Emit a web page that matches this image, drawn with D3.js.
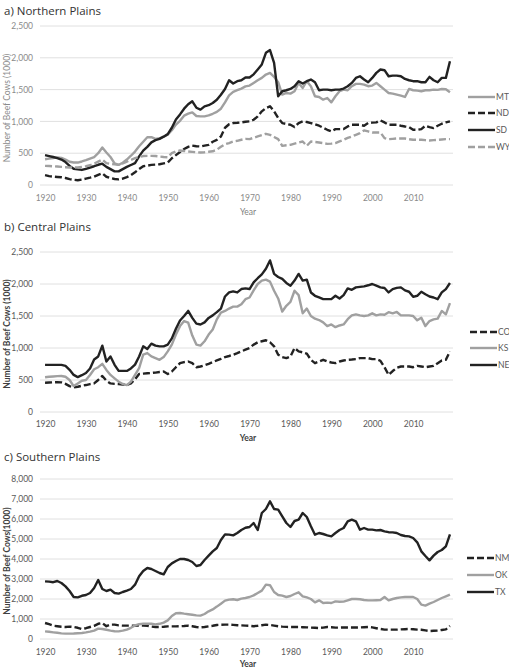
<!DOCTYPE html>
<html><head><meta charset="utf-8">
<script src="https://cdn.jsdelivr.net/npm/d3@7"></script>
<style>
body{margin:0;background:#fff;}
svg{display:block;font-family:Lato, "Open Sans", sans-serif;}
</style></head>
<body><svg id="chart" width="509" height="668"></svg>
<script>
const years = d3.range(1920, 2020);
const xTickLabels = [1920,1930,1940,1950,1960,1970,1980,1990,2000,2010];
const yTicksAB = [0,500,1000,1500,2000,2500];
const yTicksC = [0,1000,2000,3000,4000,5000,6000,7000,8000];

// a) Northern Plains
const MT = [405,415,425,435,425,400,365,353,353,370, 390,415,440,500,590,511,440,340,316,350,
 400,460,526,610,680,750,753,725,735,760, 790,860,950,1010,1090,1121,1142,1085,1079,1079,
 1095,1120,1150,1200,1300,1410,1465,1490,1515,1550, 1563,1605,1647,1684,1737,1763,1700,1616,1421,1447,
 1437,1474,1605,1526,1632,1553,1395,1384,1342,1368, 1300,1395,1474,1500,1490,1553,1590,1590,1579,1553,
 1563,1605,1553,1500,1447,1437,1421,1405,1384,1510, 1490,1484,1474,1490,1490,1500,1495,1510,1505,1458];
const ND = [155,140,132,126,121,110,92,82,75,85, 100,115,132,160,184,130,110,95,89,100,
 125,155,200,250,295,305,316,320,326,340, 353,420,470,520,565,600,620,610,605,620,
 632,680,710,763,900,955,974,978,984,995, 1000,1026,1079,1158,1210,1237,1158,1053,974,960,
 947,911,974,1000,990,974,955,932,900,868, 842,879,879,879,921,947,947,947,932,974,
 980,984,1016,984,947,947,947,932,920,911, 868,868,879,932,911,895,932,963,984,1000];
const SD = [470,455,440,422,400,360,300,255,245,237, 255,275,295,318,335,285,250,215,215,250,
 285,315,345,450,540,600,670,705,725,760, 800,900,1030,1110,1200,1270,1316,1215,1185,1237,
 1255,1290,1340,1420,1510,1647,1595,1632,1647,1690, 1690,1740,1816,1895,2079,2121,1921,1395,1474,1490,
 1510,1553,1632,1595,1632,1658,1616,1490,1500,1500, 1490,1500,1500,1516,1553,1605,1684,1710,1658,1616,
 1684,1763,1816,1805,1710,1720,1720,1710,1668,1647, 1632,1632,1616,1616,1700,1647,1616,1684,1684,1947];
const WY = [300,298,295,290,285,280,275,274,276,285, 295,310,335,368,400,345,333,325,316,340,
 368,395,421,440,455,458,458,455,448,440, 437,500,530,542,535,526,520,515,511,515,
 522,530,555,600,640,660,684,695,711,725, 721,742,763,784,805,789,755,721,616,625,
 632,650,668,684,616,684,676,668,658,647, 650,658,685,711,740,763,789,816,858,842,
 826,826,826,737,721,726,731,731,731,720, 711,711,711,705,700,705,711,716,721,721];

// b) Central Plains
const CO = [458,460,463,465,463,440,405,384,395,410, 421,435,447,500,563,489,447,440,437,430,
 421,447,510,595,600,605,610,616,625,632, 595,632,700,763,780,789,763,700,711,730,
 753,780,805,830,858,875,895,920,947,974, 1000,1053,1089,1105,1121,1090,1026,895,858,842,
 868,1000,947,932,911,816,763,789,816,790, 774,763,789,805,816,820,826,842,842,842,
 826,826,800,700,579,640,690,711,711,711, 700,721,711,700,710,721,763,805,816,947];
const KS = [542,550,555,560,563,550,500,405,447,489, 500,579,668,700,753,658,579,526,474,437,
 421,474,579,684,895,921,868,842,816,858, 947,1053,1210,1342,1421,1395,1195,1053,1037,1105,
 1210,1289,1447,1553,1579,1616,1647,1647,1684,1763, 1789,1900,2000,2053,2068,2037,1895,1774,1570,1660,
 1720,1895,1826,1542,1616,1500,1458,1437,1400,1342, 1368,1326,1352,1368,1450,1510,1526,1510,1500,1510,
 1542,1510,1526,1520,1560,1542,1563,1510,1510,1510, 1500,1432,1474,1342,1421,1447,1460,1579,1526,1700];
const NE = [737,737,737,737,737,720,660,580,545,575, 610,680,820,868,1037,789,868,737,642,642,
 642,680,740,868,1026,984,1068,1037,1026,1026, 1053,1150,1300,1430,1500,1580,1470,1380,1368,1400,
 1470,1510,1560,1616,1805,1868,1884,1868,1921,1932, 1921,2026,2090,2150,2237,2368,2158,2110,2079,2016,
 1974,2053,2158,2053,2068,1868,1816,1790,1763,1763, 1763,1816,1774,1826,1932,1910,1947,1955,1963,1980,
 2000,1974,1947,1937,1868,1921,1940,1947,1900,1879, 1800,1816,1879,1840,1805,1789,1763,1868,1921,2016];

// c) Southern Plains
const NM = [800,740,667,640,610,600,620,600,560,500, 540,600,660,760,800,640,717,717,680,667,
 667,670,667,667,667,660,620,600,600,610, 633,633,633,640,650,667,640,600,583,600,
 633,660,700,710,717,717,705,690,680,667, 660,640,660,690,717,700,670,640,620,605,
 600,600,600,590,583,570,560,550,570,600, 590,567,570,575,575,575,575,580,590,600,
 580,540,500,470,467,467,467,480,490,500, 490,470,460,430,400,410,420,450,480,650];
const OK = [383,360,333,310,280,267,267,275,290,300, 330,370,420,520,500,460,420,390,383,420,
 467,560,680,740,767,760,760,730,760,820, 930,1150,1290,1300,1267,1240,1210,1180,1167,1250,
 1383,1480,1620,1767,1920,1970,1990,1950,2017,2050, 2100,2180,2300,2420,2717,2690,2350,2200,2167,2100,
 2150,2250,2333,2133,2080,2000,1833,1933,1800,1820, 1800,1883,1860,1870,1933,2000,2000,1990,1950,1933,
 1933,1940,1950,2100,1933,2000,2050,2080,2100,2100, 2100,2000,1717,1667,1767,1850,1950,2050,2133,2217];
const TX = [2883,2870,2840,2900,2800,2633,2400,2100,2080,2160, 2200,2300,2550,2950,2500,2400,2467,2300,2267,2350,
 2420,2500,2717,3133,3400,3550,3500,3400,3300,3230, 3600,3780,3900,4000,4000,3950,3850,3650,3700,3950,
 4167,4383,4550,4950,5230,5220,5180,5300,5450,5560, 5600,5800,5450,6300,6500,6883,6500,6467,6133,5800,
 5600,5900,5967,6300,6100,5633,5217,5300,5250,5180, 5133,5300,5450,5550,5883,5967,5883,5467,5550,5467,
 5467,5433,5450,5383,5340,5333,5300,5200,5150,5133, 5050,4833,4383,4150,3933,4167,4350,4450,4633,5230];

const BLACK = "#222222", GRAY = "#a0a0a0";
const DASH = "7,3";

const panels = [
  {title:"a) Northern Plains", yTitle:"Number of  Beef Cows (1000)", top:26, bottom:185, max:2500, ticks:yTicksAB,
   titleY:15, xLabY:201, yearY:215, yTitleY:108, legX:468, legY:[97,113,130,147], light:true,
   series:[{name:"MT",v:MT,c:GRAY,d:null},{name:"ND",v:ND,c:BLACK,d:DASH},{name:"SD",v:SD,c:BLACK,d:null},{name:"WY",v:WY,c:GRAY,d:DASH}]},
  {title:"b) Central Plains", yTitle:"Number of Beef Cows (1000)", top:252, bottom:412, max:2500, ticks:yTicksAB,
   titleY:231, xLabY:427, yearY:441, yTitleY:334, legX:470, legY:[332,348,365], light:false,
   series:[{name:"CO",v:CO,c:BLACK,d:DASH},{name:"KS",v:KS,c:GRAY,d:null},{name:"NE",v:NE,c:BLACK,d:null}]},
  {title:"c) Southern Plains", yTitle:"Number of Beef Cows(1000)", top:479, bottom:639, max:8000, ticks:yTicksC,
   titleY:461, xLabY:655, yearY:667, yTitleY:561, legX:467, legY:[558,575,592], light:false,
   series:[{name:"NM",v:NM,c:BLACK,d:DASH},{name:"OK",v:OK,c:GRAY,d:null},{name:"TX",v:TX,c:BLACK,d:null}]}
];

const svg = d3.select("#chart");
const x = d3.scalePoint().domain(years).range([43, 452]).padding(0.5);
const gridX0 = 40, gridX1 = 453;

panels.forEach(p => {
  const y = d3.scaleLinear().domain([0, p.max]).range([p.bottom, p.top]);
  const g = svg.append("g");
  const tickCol = p.light ? "#8a8a8a" : "#595959";

  g.append("text").attr("x", 4).attr("y", p.titleY).attr("font-size", 12).attr("fill", "#333")
    .attr("font-family", "'Open Sans', sans-serif").attr("font-size", 11.5)
    .text(p.title);

  g.append("g").selectAll("line").data(p.ticks).join("line")
    .attr("x1", gridX0).attr("x2", gridX1)
    .attr("y1", d => y(d)).attr("y2", d => y(d))
    .attr("stroke", "#e0e0e0").attr("stroke-width", 1);

  const ya = g.append("g").attr("transform", `translate(${gridX0},0)`)
    .call(d3.axisLeft(y).tickValues(p.ticks).tickSize(0).tickPadding(7).tickFormat(d3.format(",")));
  ya.select(".domain").remove();
  ya.selectAll("text").attr("font-size", 8.5).attr("fill", tickCol).attr("font-family", "Lato, sans-serif");

  const xa = g.append("g").attr("transform", `translate(0,${p.xLabY - 9})`)
    .call(d3.axisBottom(x).tickValues(xTickLabels).tickSize(0).tickPadding(3));
  xa.select(".domain").remove();
  xa.selectAll("text").attr("font-size", 8.5).attr("fill", tickCol).attr("font-family", "Lato, sans-serif");

  g.append("text").attr("x", 248).attr("y", p.yearY).attr("text-anchor", "middle")
    .attr("font-size", 8.5).attr("fill", p.light ? "#7f7f7f" : "#404040")
    .attr("font-weight", p.light ? "normal" : "bold").text("Year");

  g.append("text").attr("transform", `translate(7,${p.yTitleY}) rotate(-90)`)
    .attr("text-anchor", "middle").attr("dominant-baseline", "central")
    .attr("font-size", 8.5).attr("fill", p.light ? "#8a8a8a" : "#404040")
    .attr("font-weight", p.light ? "normal" : "bold").text(p.yTitle);

  const line = d3.line().x((d, i) => x(years[i])).y(d => y(d));
  p.series.forEach(s => {
    g.append("path").datum(s.v).attr("d", line).attr("fill", "none")
      .attr("stroke", s.c).attr("stroke-width", 2.4).attr("stroke-linejoin", "round")
      .attr("stroke-dasharray", s.d);
  });

  const lg = g.append("g");
  p.series.forEach((s, i) => {
    const ly = p.legY[i];
    lg.append("line").attr("x1", p.legX).attr("x2", p.legX + 27).attr("y1", ly).attr("y2", ly)
      .attr("stroke", s.c).attr("stroke-width", 2.4).attr("stroke-dasharray", s.d);
    lg.append("text").attr("x", p.legX + 28).attr("y", ly).attr("dominant-baseline", "central")
      .attr("font-size", 8.5).attr("fill", "#595959").text(s.name);
  });
});
</script></body></html>
